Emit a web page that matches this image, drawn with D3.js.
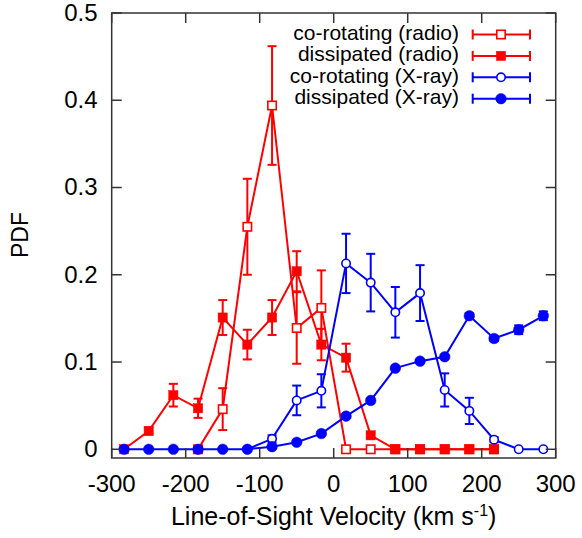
<!DOCTYPE html>
<html><head><meta charset="utf-8">
<script src="https://cdn.jsdelivr.net/npm/d3@7"></script>
<style>body{margin:0;background:#fff}svg{display:block}text{font-family:"Liberation Sans",Arial,Helvetica,sans-serif}</style>
</head><body><svg id="c" width="582" height="538"></svg>
<script>
// velocity bin centres (km/s)
const velocity = [-283.3,-250,-216.7,-183.3,-150,-116.7,-83.3,-50,-16.7,16.7,50,83.3,116.7,150,183.3,216.7,250,283.3];
// co-rotating (radio)
const corotRadio    = [null,null,null,0,0.046,0.255,0.394,0.139,0.162,0,0,0,0,0,0,0,null,null];
const corotRadioErr = [null,null,null,0,0.024,0.055,0.068,0.041,0.043,0,0,0,0,0,0,0,null,null];
// dissipated (radio)
const dissRadio     = [0,0.021,0.062,0.047,0.151,0.120,0.151,0.204,0.120,0.105,0.016,0,0,0,0,0,null,null];
const dissRadioErr  = [0,0.004,0.013,0.011,0.020,0.017,0.020,0.023,0.018,0.016,0.003,0,0,0,0,0,null,null];
// co-rotating (X-ray)
const corotXray     = [null,null,null,null,null,0,0.012,0.056,0.067,0.213,0.191,0.157,0.179,0.068,0.044,0.011,0,0];
const corotXrayErr  = [null,null,null,null,null,0,0.004,0.017,0.019,0.034,0.033,0.029,0.032,0.019,0.015,0.003,0,0];
// dissipated (X-ray)
const dissXray      = [0,0,0,0,0,0,0.003,0.008,0.018,0.038,0.056,0.093,0.101,0.106,0.153,0.127,0.137,0.153];
const dissXrayErr   = [0,0,0,0,0,0,0.001,0.001,0.001,0.002,0.002,0.002,0.002,0.002,0.003,0.003,0.005,0.005];

const xTicks = [-300,-200,-100,0,100,200,300];
const xTickLabels = ["-300","-200","-100","0","100","200","300"];
const yTicks = [0,0.1,0.2,0.3,0.4,0.5];
const yTickLabels = ["0","0.1","0.2","0.3","0.4","0.5"];
const seriesNames = ["co-rotating (radio)","dissipated (radio)","co-rotating (X-ray)","dissipated (X-ray)"];

const series = [
  {name:seriesNames[0], v:corotRadio, e:corotRadioErr, color:"#ff0000", marker:"square", fill:false},
  {name:seriesNames[1], v:dissRadio,  e:dissRadioErr,  color:"#ff0000", marker:"square", fill:true},
  {name:seriesNames[2], v:corotXray,  e:corotXrayErr,  color:"#0000ff", marker:"circle", fill:false},
  {name:seriesNames[3], v:dissXray,   e:dissXrayErr,   color:"#0000ff", marker:"circle", fill:true}
];

const L=111.7, R=555.7, T=13, B=458;
const x = d3.scaleLinear().domain([-300,300]).range([L,R]);
const y = d3.scaleLinear().domain([-0.01,0.5]).range([B,T]);
const svg = d3.select("#c");
const frameColor = "#333";

const lw = 2, capW = 4.5;
function drawMarker(g, s, cx, cy){
  if(s.marker==="square"){
    const h = s.fill ? 4.6 : 4.2;
    g.append("rect").attr("x",cx-h).attr("y",cy-h).attr("width",2*h).attr("height",2*h)
      .attr("fill", s.fill ? s.color : "#fff").attr("stroke", s.color).attr("stroke-width", s.fill?0.5:1.6);
  } else {
    const r = s.fill ? 5.3 : 4.2;
    g.append("circle").attr("cx",cx).attr("cy",cy).attr("r",r)
      .attr("fill", s.fill ? s.color : "#fff").attr("stroke", s.color).attr("stroke-width", s.fill?0.5:1.6);
  }
}
series.forEach(s=>{
  const g = svg.append("g");
  const pts = velocity.map((vx,i)=>({x:vx, y:s.v[i], e:s.e[i]})).filter(p=>p.y!==null);
  g.append("path").datum(pts)
    .attr("d", d3.line().x(p=>x(p.x)).y(p=>y(p.y)))
    .attr("fill","none").attr("stroke",s.color).attr("stroke-width",lw);
  pts.forEach(p=>{
    if(p.e>0){
      const cx=x(p.x), y1=y(p.y+p.e), y0=y(p.y-p.e);
      g.append("line").attr("x1",cx).attr("x2",cx).attr("y1",y1).attr("y2",y0).attr("stroke",s.color).attr("stroke-width",lw);
      [y1,y0].forEach(yy=>g.append("line").attr("x1",cx-capW).attr("x2",cx+capW).attr("y1",yy).attr("y2",yy).attr("stroke",s.color).attr("stroke-width",lw));
    }
  });
  pts.forEach(p=>drawMarker(g, s, x(p.x), y(p.y)));
});

// frame and ticks
const tl = 10;
svg.append("rect").attr("x",L).attr("y",T).attr("width",R-L).attr("height",B-T)
  .attr("fill","none").attr("stroke",frameColor).attr("stroke-width",1.5);
const ax = svg.append("g");
xTicks.forEach((t,i)=>{
  ax.append("line").attr("x1",x(t)).attr("x2",x(t)).attr("y1",B).attr("y2",B-tl).attr("stroke",frameColor).attr("stroke-width",1.5);
  ax.append("line").attr("x1",x(t)).attr("x2",x(t)).attr("y1",T).attr("y2",T+tl).attr("stroke",frameColor).attr("stroke-width",1.5);
  ax.append("text").attr("x",x(t)).attr("y",491.5).attr("text-anchor","middle").attr("font-size",24).text(xTickLabels[i]);
});
yTicks.forEach((t,i)=>{
  ax.append("line").attr("x1",L).attr("x2",L+tl).attr("y1",y(t)).attr("y2",y(t)).attr("stroke",frameColor).attr("stroke-width",1.5);
  ax.append("line").attr("x1",R).attr("x2",R-tl).attr("y1",y(t)).attr("y2",y(t)).attr("stroke",frameColor).attr("stroke-width",1.5);
  ax.append("text").attr("x",97.5).attr("y",y(t)+1.5).attr("text-anchor","end").attr("dominant-baseline","middle").attr("font-size",24).text(yTickLabels[i]);
});

// axis titles
const xt = svg.append("text").attr("x",(L+R)/2).attr("y",525).attr("text-anchor","middle").attr("font-size",25);
xt.append("tspan").text("Line-of-Sight Velocity (km s");
xt.append("tspan").attr("font-size",16).attr("dy",-9).text("-1");
xt.append("tspan").attr("dy",9).text(")");
svg.append("text").attr("transform","translate(28,235) rotate(-90)").attr("text-anchor","middle").attr("font-size",23).text("PDF");

// legend
const lg = svg.append("g");
series.forEach((s,i)=>{
  const cy = 34.5 + i*21.4;
  lg.append("text").attr("x",459).attr("y",cy).attr("dominant-baseline","middle").attr("text-anchor","end").attr("font-size",21).text(s.name);
  lg.append("line").attr("x1",472.7).attr("x2",530).attr("y1",cy).attr("y2",cy).attr("stroke",s.color).attr("stroke-width",lw);
  [472.7,530].forEach(xx=>lg.append("line").attr("x1",xx).attr("x2",xx).attr("y1",cy-5).attr("y2",cy+5).attr("stroke",s.color).attr("stroke-width",lw));
  drawMarker(lg, s, 501, cy);
});
</script></body></html>
